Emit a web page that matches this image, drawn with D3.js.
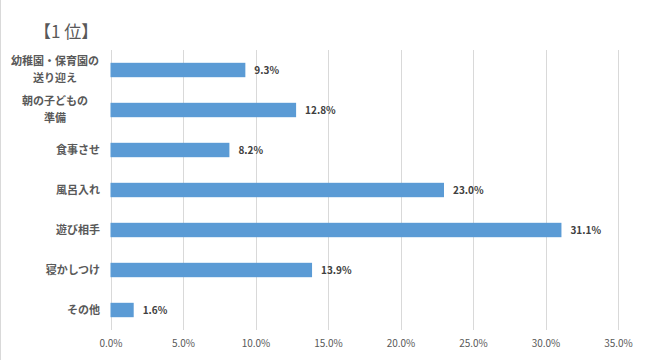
<!DOCTYPE html>
<html><head><meta charset="utf-8">
<script src="https://cdn.jsdelivr.net/npm/d3@7"></script>
<style>
body{margin:0;background:#fff;}
svg{display:block;}
</style></head>
<body>
<svg id="c" width="648" height="360"></svg>
<script>
const title = "【1 位】";
const categories = [["幼稚園・保育園の","送り迎え"],["朝の子どもの","準備"],["食事させ"],["風呂入れ"],["遊び相手"],["寝かしつけ"],["その他"]];
const values = [9.3, 12.8, 8.2, 23.0, 31.1, 13.9, 1.6];
const ticks = [0,5,10,15,20,25,30,35];

const svg = d3.select("#c");
const font = "'Noto Sans CJK JP', 'Noto Sans', sans-serif";
const x = d3.scaleLinear().domain([0,35]).range([110.5,618]);
const y = d3.scaleBand().domain(d3.range(categories.length)).range([50,330]).paddingInner(0.64).paddingOuter(0.32);

svg.append("line").attr("x1",0.5).attr("x2",0.5).attr("y1",0).attr("y2",360).attr("stroke","#d9d9d9");

svg.append("text").attr("x",34).attr("y",38).text(title)
  .attr("font-family",font).attr("font-size",17).attr("fill","#595959");

// gridlines
svg.append("g").selectAll("line").data(ticks).join("line")
  .attr("x1",d=>Math.round(x(d))+0.5).attr("x2",d=>Math.round(x(d))+0.5)
  .attr("y1",50).attr("y2",330).attr("stroke","#d9d9d9");

// x axis labels
const xa = svg.append("g").attr("transform","translate(0,330)")
  .call(d3.axisBottom(x).tickValues(ticks).tickFormat(d=>d.toFixed(1)+"%").tickSize(0).tickPadding(10));
xa.select(".domain").remove();
xa.selectAll("text").attr("font-family",font).attr("font-size",10).attr("fill","#595959");

// bars
svg.append("g").selectAll("rect").data(values).join("rect")
  .attr("x",x(0)).attr("y",(d,i)=>y(i)).attr("width",d=>x(d)-x(0)).attr("height",y.bandwidth())
  .attr("fill","#5b9bd5");

// value labels
svg.append("g").selectAll("text").data(values).join("text")
  .attr("x",d=>x(d)+9).attr("y",(d,i)=>y(i)+y.bandwidth()/2).attr("dy","0.35em")
  .text(d=>d.toFixed(1)+"%")
  .attr("font-family",font).attr("font-size",10).attr("font-weight","bold").attr("fill","#404040");

// category labels
const cg = svg.append("g");
categories.forEach((lines,i)=>{
  const cy = y(i)+y.bandwidth()/2;
  const t = cg.append("text")
    .attr("font-family",font).attr("font-size",11).attr("font-weight","bold").attr("fill","#595959");
  const lh = 17;
  lines.forEach((s,j)=>{
    t.append("tspan").attr("x", lines.length>1 ? 55 : 100).attr("text-anchor", lines.length>1?"middle":"end")
      .attr("y", cy + (j-(lines.length-1)/2)*lh).attr("dy","0.35em").text(s);
  });
});
</script>
</body></html>
